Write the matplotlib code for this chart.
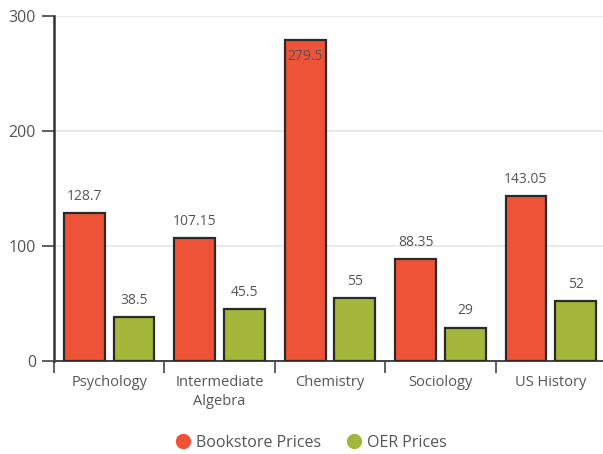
import numpy as np
import matplotlib
matplotlib.use('Agg')
import matplotlib.pyplot as plt
from matplotlib.lines import Line2D

categories = ['Psychology', 'Intermediate\nAlgebra', 'Chemistry', 'Sociology', 'US History']
bookstore = [128.7, 107.15, 279.5, 88.35, 143.05]
oer = [38.5, 45.5, 55, 29, 52]
bookstore_labels = ['128.7', '107.15', '279.5', '88.35', '143.05']
oer_labels = ['38.5', '45.5', '55', '29', '52']

red = '#ee5237'
green = '#a4b73b'
txt = '#555555'

plt.rcParams['font.family'] = ['Open Sans', 'DejaVu Sans']

fig = plt.figure(figsize=(6.03, 4.54), dpi=100)
ax = fig.add_axes([54 / 603, 93 / 454, 552 / 603, 345 / 454])

x = np.arange(len(categories))
w = 0.37
off = 0.225
ax.bar(x - off, bookstore, w, color=red, edgecolor='#2a2a2a', linewidth=1.6, zorder=3)
ax.bar(x + off, oer, w, color=green, edgecolor='#2a2a2a', linewidth=1.6, zorder=3)

# labels above bars, chemistry one goes inside since it hits the top
for xi, v, s in zip(x, bookstore, bookstore_labels):
    dy = -12 if v > 260 else 12
    ax.annotate(s, (xi - off, v), xytext=(0, dy), textcoords='offset points',
                ha='center', va='center', fontsize=10, color=txt, zorder=4)
for xi, v, s in zip(x, oer, oer_labels):
    ax.annotate(s, (xi + off, v), xytext=(0, 12), textcoords='offset points',
                ha='center', va='center', fontsize=10, color=txt, zorder=4)

ax.set_xlim(-0.5, 4.5)
ax.set_ylim(0, 300)
ax.set_yticks([0, 100, 200, 300])
ax.yaxis.grid(True, color='#e6e6e6', linewidth=1.2, zorder=0)
ax.set_axisbelow(True)

ax.set_xticks(np.arange(-0.5, 5.0, 1.0))
ax.set_xticklabels([])
ax.set_xticks(x, minor=True)
ax.set_xticklabels(categories, minor=True, fontsize=10.5, color=txt, linespacing=1.35)
ax.tick_params(axis='x', which='major', length=8.5, width=1.2, color='#444444', direction='out')
ax.tick_params(axis='x', which='minor', length=0, pad=10)
ax.tick_params(axis='y', length=9, width=1.2, color='#444444', labelsize=11.5, labelcolor=txt, pad=4)

for sp in ['top', 'right']:
    ax.spines[sp].set_visible(False)
ax.spines['left'].set_color('#333333')
ax.spines['left'].set_linewidth(1.8)
ax.spines['bottom'].set_color('#444444')
ax.spines['bottom'].set_linewidth(1.4)

handles = [Line2D([], [], marker='o', linestyle='', markersize=10, color=red),
           Line2D([], [], marker='o', linestyle='', markersize=10, color=green)]
fig.legend(handles, ['Bookstore Prices', 'OER Prices'], loc='center', bbox_to_anchor=(311 / 603, 1 - 443 / 454),
           ncol=2, frameon=False, fontsize=11.5, labelcolor=txt, handletextpad=0.3, columnspacing=1.6,
           handlelength=1.0)

fig.savefig('out.png', dpi=100)
